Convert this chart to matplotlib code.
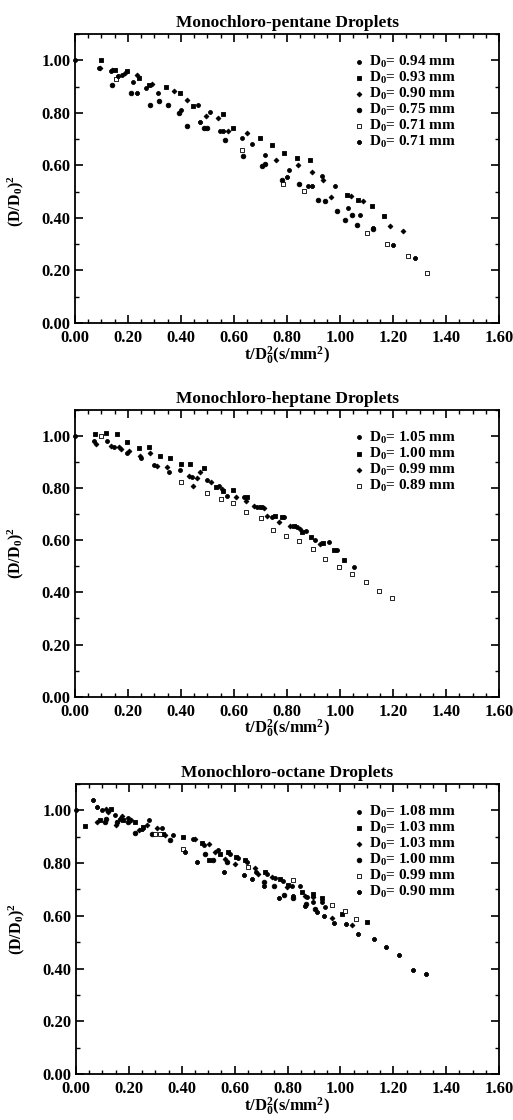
import matplotlib
matplotlib.use("Agg")
import matplotlib.pyplot as plt
from matplotlib.ticker import MultipleLocator, FormatStrFormatter

plt.rcParams['font.family'] = ['Liberation Serif', 'DejaVu Serif']
plt.rcParams['font.weight'] = 'bold'
plt.rcParams['mathtext.fontset'] = 'custom'
plt.rcParams['mathtext.rm'] = 'Liberation Serif:bold'
plt.rcParams['mathtext.it'] = 'Liberation Serif:italic:bold'
plt.rcParams['mathtext.bf'] = 'Liberation Serif:bold'

# ---- Monochloro-pentane ----
pent_labels = ["0.94 mm", "0.93 mm", "0.90 mm", "0.75 mm", "0.71 mm", "0.71 mm"]
pent_x = [
    [0.0, 0.09, 0.135, 0.176, 0.22, 0.267, 0.314, 0.402, 0.465, 0.509, 0.547, 0.629, 0.669, 0.717, 0.808, 0.88, 0.931, 0.981, 1.031, 1.075],
    [0.10, 0.15, 0.195, 0.243, 0.279, 0.342, 0.396, 0.444, 0.56, 0.597, 0.698, 0.742, 0.789, 0.836, 0.887, 1.025, 1.069, 1.119, 1.164],
    [0.095, 0.14, 0.189, 0.233, 0.292, 0.374, 0.424, 0.494, 0.538, 0.579, 0.648, 0.758, 0.84, 0.893, 0.937, 0.965, 1.04, 1.086, 1.189, 1.236],
    [0.14, 0.211, 0.283, 0.318, 0.352, 0.394, 0.424, 0.487, 0.497, 0.566, 0.633, 0.704, 0.717, 0.78, 0.847, 0.918, 0.943, 0.99, 1.019, 1.044, 1.063, 1.123],
    [0.155, 0.63, 0.785, 0.864, 1.10, 1.177, 1.257, 1.328],
    [0.164, 0.233, 0.472, 0.557, 0.801, 0.893, 1.123, 1.201, 1.283],
]
pent_y = [
    [1.0, 0.97, 0.96, 0.943, 0.917, 0.896, 0.874, 0.81, 0.828, 0.804, 0.73, 0.705, 0.683, 0.641, 0.584, 0.52, 0.561, 0.52, 0.438, 0.412],
    [1.0, 0.965, 0.96, 0.931, 0.905, 0.9, 0.877, 0.826, 0.794, 0.743, 0.705, 0.679, 0.648, 0.628, 0.622, 0.489, 0.469, 0.447, 0.408],
    [0.97, 0.965, 0.953, 0.943, 0.911, 0.882, 0.849, 0.788, 0.781, 0.73, 0.724, 0.622, 0.6, 0.574, 0.546, 0.48, 0.484, 0.463, 0.37, 0.349],
    [0.905, 0.877, 0.828, 0.847, 0.828, 0.798, 0.749, 0.743, 0.743, 0.698, 0.635, 0.597, 0.606, 0.546, 0.531, 0.469, 0.463, 0.425, 0.393, 0.412, 0.374, 0.357],
    [0.93, 0.66, 0.53, 0.504, 0.344, 0.30, 0.256, 0.19],
    [0.94, 0.874, 0.767, 0.73, 0.556, 0.523, 0.36, 0.298, 0.247],
]

# ---- Monochloro-heptane ----
hept_labels = ["1.05 mm", "1.00 mm", "0.99 mm", "0.89 mm"]
hept_x = [
    [0.0, 0.073, 0.12, 0.148, 0.198, 0.248, 0.299, 0.355, 0.396, 0.443, 0.499, 0.543, 0.572, 0.637, 0.688, 0.744, 0.79, 0.836, 0.87, 0.907, 0.957, 0.989, 1.054],
    [0.075, 0.117, 0.158, 0.198, 0.242, 0.28, 0.321, 0.359, 0.399, 0.434, 0.487, 0.531, 0.56, 0.597, 0.65, 0.7, 0.753, 0.782, 0.826, 0.857, 0.891, 0.936, 0.976, 1.014],
    [0.079, 0.136, 0.167, 0.173, 0.205, 0.246, 0.284, 0.309, 0.349, 0.43, 0.447, 0.462, 0.472, 0.512, 0.556, 0.606, 0.646, 0.675, 0.713, 0.725, 0.769, 0.813, 0.848, 0.926],
    [0.098, 0.399, 0.499, 0.55, 0.597, 0.647, 0.7, 0.748, 0.798, 0.844, 0.898, 0.945, 0.995, 1.045, 1.099, 1.146, 1.196],
]
hept_y = [
    [1.0, 0.98, 0.981, 0.959, 0.936, 0.915, 0.889, 0.86, 0.869, 0.843, 0.831, 0.809, 0.771, 0.767, 0.729, 0.688, 0.688, 0.65, 0.637, 0.601, 0.592, 0.563, 0.499],
    [1.006, 1.013, 1.009, 0.978, 0.955, 0.958, 0.924, 0.915, 0.892, 0.892, 0.879, 0.803, 0.79, 0.792, 0.767, 0.726, 0.694, 0.688, 0.656, 0.631, 0.611, 0.588, 0.563, 0.525],
    [0.968, 0.962, 0.958, 0.949, 0.943, 0.924, 0.936, 0.885, 0.882, 0.847, 0.809, 0.837, 0.86, 0.824, 0.796, 0.764, 0.752, 0.732, 0.724, 0.694, 0.669, 0.656, 0.643, 0.586],
    [1.0, 0.822, 0.78, 0.758, 0.741, 0.707, 0.684, 0.639, 0.618, 0.599, 0.567, 0.529, 0.499, 0.469, 0.439, 0.405, 0.378],
]

# ---- Monochloro-octane ----
oct_labels = ["1.08 mm", "1.03 mm", "1.03 mm", "1.00 mm", "0.99 mm", "0.90 mm"]
oct_x = [
    [0.0, 0.097, 0.148, 0.198, 0.277, 0.324, 0.368, 0.441, 0.484, 0.538, 0.583, 0.614, 0.648, 0.681, 0.721, 0.753, 0.782, 0.816, 0.847, 0.873, 0.898, 0.929, 0.942],
    [0.034, 0.091, 0.131, 0.179, 0.223, 0.255, 0.33, 0.404, 0.475, 0.504, 0.545, 0.576, 0.605, 0.639, 0.715, 0.772, 0.803, 0.854, 0.895, 0.929, 1.005, 1.1],
    [0.078, 0.113, 0.122, 0.151, 0.173, 0.208, 0.24, 0.267, 0.305, 0.337, 0.45, 0.504, 0.526, 0.564, 0.601, 0.677, 0.69, 0.74, 0.797, 0.866, 0.895, 0.967, 1.043],
    [0.11, 0.113, 0.154, 0.198, 0.223, 0.286, 0.356, 0.488, 0.517, 0.57, 0.712, 0.749, 0.787, 0.82, 0.87, 0.904],
    [0.299, 0.318, 0.404, 0.652, 0.82, 0.967, 1.018, 1.059],
    [0.063, 0.078, 0.166, 0.248, 0.412, 0.456, 0.56, 0.636, 0.665, 0.712, 0.769, 0.822, 0.866, 0.911, 0.936, 0.976, 1.021, 1.068, 1.125, 1.173, 1.223, 1.276, 1.324],
]
oct_y = [
    [1.0, 1.0, 0.982, 0.971, 0.962, 0.933, 0.905, 0.892, 0.867, 0.848, 0.835, 0.819, 0.806, 0.768, 0.759, 0.742, 0.733, 0.712, 0.714, 0.67, 0.654, 0.651, 0.635],
    [0.94, 0.962, 1.004, 0.964, 0.956, 0.937, 0.911, 0.898, 0.877, 0.813, 0.835, 0.841, 0.822, 0.813, 0.768, 0.74, 0.717, 0.689, 0.683, 0.666, 0.607, 0.577],
    [0.956, 1.006, 0.994, 0.945, 0.98, 0.962, 0.924, 0.945, 0.933, 0.905, 0.892, 0.873, 0.844, 0.816, 0.797, 0.781, 0.759, 0.746, 0.708, 0.676, 0.67, 0.59, 0.565],
    [0.956, 0.968, 0.955, 0.956, 0.915, 0.911, 0.886, 0.835, 0.813, 0.803, 0.727, 0.714, 0.679, 0.666, 0.645, 0.626],
    [0.911, 0.911, 0.854, 0.784, 0.737, 0.641, 0.619, 0.588],
    [1.038, 1.013, 0.968, 0.93, 0.841, 0.806, 0.768, 0.755, 0.74, 0.714, 0.666, 0.674, 0.638, 0.615, 0.6, 0.572, 0.569, 0.53, 0.511, 0.48, 0.45, 0.393, 0.378],
]

# marker styles per series slot
styles = [
    dict(marker='o', s=8, facecolors='black', edgecolors='black'),
    dict(marker='s', s=8, facecolors='black', edgecolors='black'),
    dict(marker='D', s=6, facecolors='black', edgecolors='black'),
    dict(marker='o', s=11, facecolors='black', edgecolors='black'),
    dict(marker='s', s=9, facecolors='white', edgecolors='black'),
    dict(marker='P', s=8, facecolors='black', edgecolors='black'),
]


def panel(fig, rect, title, xs, ys, labels, open_slot, ylab_y=0.5):
    ax = fig.add_axes(rect)
    for i, (x, y, lab) in enumerate(zip(xs, ys, labels)):
        st = dict(styles[i])
        if i == open_slot:
            st = dict(styles[4])
        elif i == 4:
            st = dict(styles[5])
        ax.scatter(x, y, linewidths=0.6, label="D$_0$= " + lab, zorder=3, clip_on=False, **st)
    ax.set_xlim(0, 1.6)
    ax.set_ylim(0, 1.10)
    ax.xaxis.set_major_locator(MultipleLocator(0.2))
    ax.xaxis.set_minor_locator(MultipleLocator(0.05))
    ax.yaxis.set_major_locator(MultipleLocator(0.2))
    ax.yaxis.set_minor_locator(MultipleLocator(0.1))
    ax.xaxis.set_major_formatter(FormatStrFormatter('%.2f'))
    ax.yaxis.set_major_formatter(FormatStrFormatter('%.2f'))
    ax.tick_params(which='both', direction='in', top=True, right=True, labelsize=12)
    ax.tick_params(axis='x', pad=5)
    ax.tick_params(axis='y', pad=3)
    ax.tick_params(which='major', length=6, width=1.2)
    ax.tick_params(which='minor', length=3, width=1.0)
    for sp in ax.spines.values():
        sp.set_linewidth(1.3)
    for t in ax.get_xticklabels() + ax.get_yticklabels():
        t.set_fontweight('bold')
    ax.set_title(title, fontsize=12.5, fontweight='bold', pad=5)
    ax.set_xlabel("t/D$_0^2$(s/mm$^2$)", fontsize=12, fontweight='bold', labelpad=-1)
    ax.set_ylabel("(D/D$_0$)$^2$", fontsize=11.5, fontweight='bold')
    ax.yaxis.set_label_coords(-0.115, ylab_y)
    leg = ax.legend(loc='upper right', frameon=False, fontsize=11, handletextpad=0.2,
                    labelspacing=0.0, borderaxespad=0.6, handlelength=1.0,
                    markerscale=1.0, bbox_to_anchor=(0.935, 0.985))
    for t in leg.get_texts():
        t.set_fontweight('bold')
    return ax


fig = plt.figure(figsize=(5.13, 11.2), dpi=100)
panel(fig, [0.146, 0.7116, 0.827, 0.258], "Monochloro-pentane Droplets", pent_x, pent_y, pent_labels, 4, ylab_y=0.42)
panel(fig, [0.146, 0.378, 0.827, 0.256], "Monochloro-heptane Droplets", hept_x, hept_y, hept_labels, 3)
panel(fig, [0.148, 0.041, 0.825, 0.259], "Monochloro-octane Droplets", oct_x, oct_y, oct_labels, 4)
fig.savefig("out.png", dpi=100)
